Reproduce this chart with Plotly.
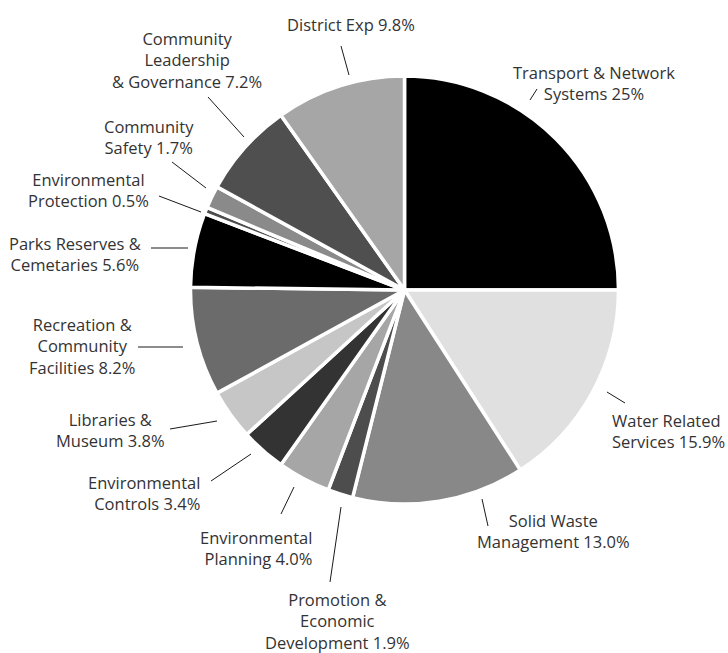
import plotly.graph_objects as go

W, H = 728, 653

categories = [
    "Transport & Network Systems",
    "Water Related Services",
    "Solid Waste Management",
    "Promotion & Economic Development",
    "Environmental Planning",
    "Environmental Controls",
    "Libraries & Museum",
    "Recreation & Community Facilities",
    "Parks Reserves & Cemetaries",
    "Environmental Protection",
    "Community Safety",
    "Community Leadership & Governance",
    "District Exp",
]
values = [25.0, 15.9, 13.0, 1.9, 4.0, 3.4, 3.8, 8.2, 5.6, 0.5, 1.7, 7.2, 9.8]
label_texts = [
    "Transport & Network<br>Systems 25%",
    "Water Related<br>Services 15.9%",
    "Solid Waste<br>Management 13.0%",
    "Promotion &<br>Economic<br>Development 1.9%",
    "Environmental<br>Planning 4.0%",
    "Environmental<br>Controls 3.4%",
    "Libraries &<br>Museum 3.8%",
    "Recreation &<br>Community<br>Facilities 8.2%",
    "Parks Reserves &<br>Cemetaries 5.6%",
    "Environmental<br>Protection 0.5%",
    "Community<br>Safety 1.7%",
    "Community<br>Leadership<br>& Governance 7.2%",
    "District Exp 9.8%",
]
colors = ["#000000", "#e0e0e0", "#888888", "#4d4d4d", "#a6a6a6", "#333333",
          "#c6c6c6", "#6b6b6b", "#000000", "#4d4d4d", "#8a8a8a", "#4f4f4f", "#a6a6a6"]

# label layout (pixel positions of text centres, alignment) and leader lines (pixels)
label_pos = [
    (594, 83, "center"), (668, 431, "left"), (553, 531, "center"), (337, 621, "center"),
    (256, 548, "right"), (144, 493, "right"), (110, 430, "center"), (82, 346, "center"),
    (75, 254, "center"), (88, 190, "center"), (149, 137, "center"), (187, 60, "center"),
    (351, 25, "center"),
]
leaders = [
    (530, 100, 537, 89), (607, 392, 625, 403), (482, 499, 488, 526), (341, 507, 330, 582),
    (294, 487, 281, 514), (251, 454, 211, 481), (217, 421, 170, 429), (183, 347, 138, 347),
    (151, 248, 188, 248), (159, 196, 201, 212), (172, 162, 206, 188), (208, 97, 244, 137),
    (341, 46, 349, 75),
]

cx, cy, r = 404.5, 290.0, 214.0

def px(x):
    return x / W

def py(y):
    return 1 - y / H

fig = go.Figure(go.Pie(
    labels=categories,
    values=values,
    sort=False,
    direction="clockwise",
    rotation=0,
    marker=dict(colors=colors, line=dict(color="white", width=3.5)),
    textinfo="none",
    hoverinfo="label+percent",
    domain=dict(x=[px(cx - r), px(cx + r)], y=[py(cy + r), py(cy - r)]),
    showlegend=False,
))

font = dict(family="Open Sans, Lato, sans-serif", size=16.5, color="#333333")
for txt, (x, y, al) in zip(label_texts, label_pos):
    fig.add_annotation(x=px(x), y=py(y), xref="paper", yref="paper", text=txt,
                       showarrow=False, xanchor="center", yanchor="middle",
                       align=al, font=font)

for (x0, y0, x1, y1) in leaders:
    fig.add_shape(type="line", xref="paper", yref="paper",
                  x0=px(x0), y0=py(y0), x1=px(x1), y1=py(y1),
                  line=dict(color="#1a1a1a", width=1))

fig.update_layout(width=W, height=H, margin=dict(l=0, r=0, t=0, b=0),
                  paper_bgcolor="white", plot_bgcolor="white")
fig.write_html("out.html", config={"displayModeBar": False},
               post_script="document.body.style.margin='0';document.body.style.overflow='hidden';")
